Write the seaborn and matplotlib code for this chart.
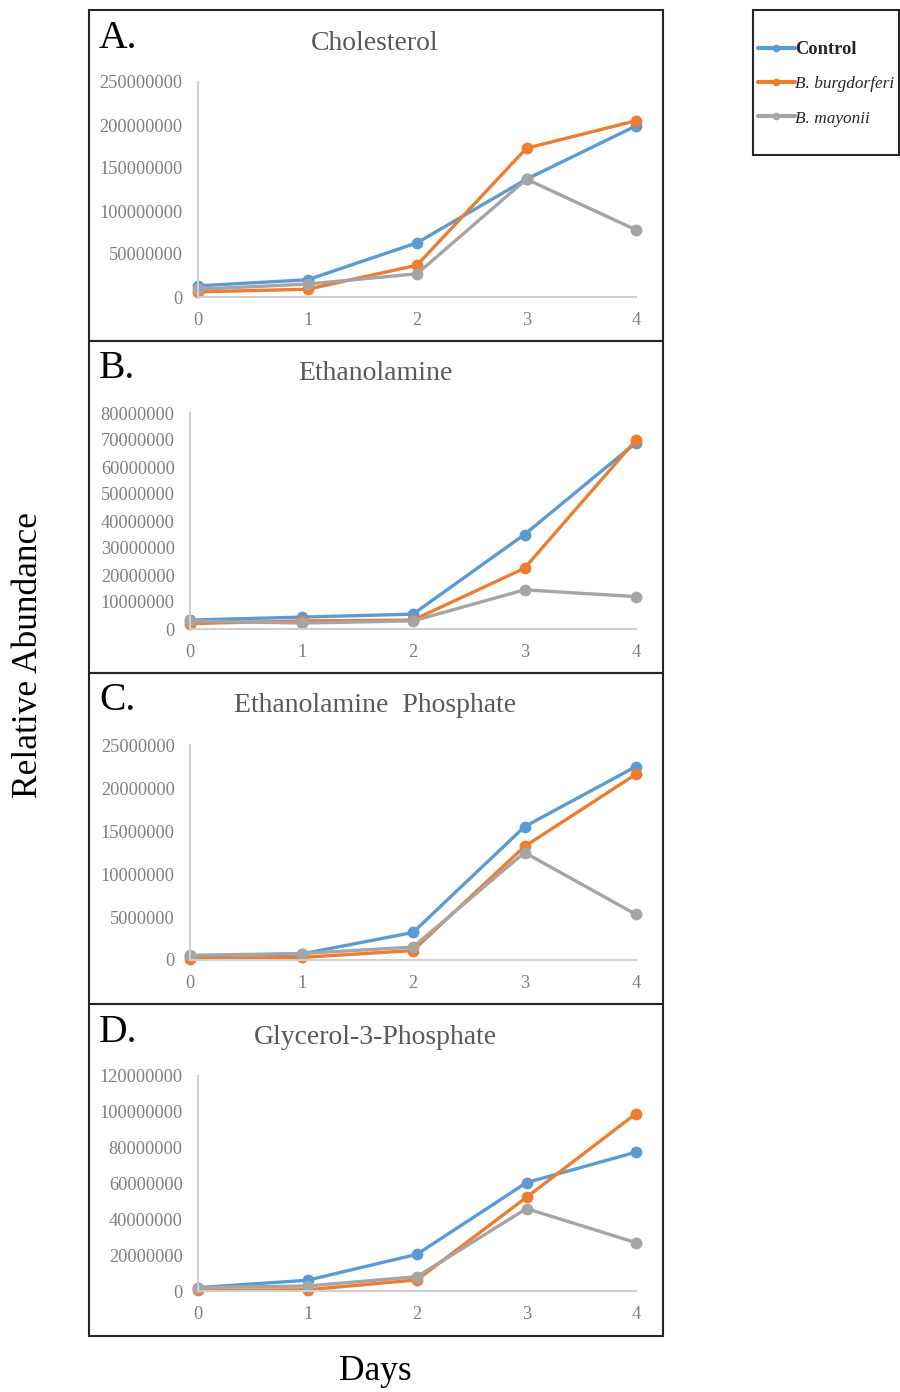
import numpy as np
import pandas as pd
import matplotlib
matplotlib.use("Agg")
import matplotlib.pyplot as plt
from matplotlib.patches import Rectangle
from matplotlib.lines import Line2D
import seaborn as sns

sns.set_style("white")
plt.rcParams['font.family'] = ['Liberation Serif', 'DejaVu Serif']

days = [0, 1, 2, 3, 4]
groups = ["Control", "B. burgdorferi", "B. mayonii"]
colors = ["#5B9BD5", "#ED7D31", "#A5A5A5"]

panel_letters = ["A.", "B.", "C.", "D."]
panel_titles = ["Cholesterol", "Ethanolamine", "Ethanolamine  Phosphate", "Glycerol-3-Phosphate"]

# values per panel: control, burgdorferi, mayonii
chol_control = [13e6, 20e6, 63e6, 137e6, 199e6]
chol_burg = [6e6, 9e6, 37e6, 173e6, 205e6]
chol_may = [9e6, 15e6, 27e6, 137e6, 78e6]

etha_control = [3.3e6, 4.4e6, 5.5e6, 35e6, 69e6]
etha_burg = [2.0e6, 3.0e6, 3.3e6, 22.5e6, 70e6]
etha_may = [3.0e6, 2.2e6, 3.0e6, 14.5e6, 12e6]

ep_control = [0.47e6, 0.7e6, 3.2e6, 15.5e6, 22.5e6]
ep_burg = [0.15e6, 0.3e6, 1.1e6, 13.2e6, 21.6e6]
ep_may = [0.55e6, 0.75e6, 1.5e6, 12.5e6, 5.3e6]

g3p_control = [1.9e6, 6e6, 20.5e6, 60.5e6, 77.5e6]
g3p_burg = [0.3e6, 0.7e6, 6.2e6, 52.3e6, 99e6]
g3p_may = [1.9e6, 2.8e6, 8e6, 46e6, 27e6]

yticks_A = [0, 50000000, 100000000, 150000000, 200000000, 250000000]
yticks_B = [0, 10000000, 20000000, 30000000, 40000000, 50000000, 60000000, 70000000, 80000000]
yticks_C = [0, 5000000, 10000000, 15000000, 20000000, 25000000]
yticks_D = [0, 20000000, 40000000, 60000000, 80000000, 100000000, 120000000]

panel_values = [
    (chol_control, chol_burg, chol_may),
    (etha_control, etha_burg, etha_may),
    (ep_control, ep_burg, ep_may),
    (g3p_control, g3p_burg, g3p_may),
]
panel_yticks = [yticks_A, yticks_B, yticks_C, yticks_D]

W, H = 900, 1392
fig = plt.figure(figsize=(W / 100, H / 100), dpi=100)

def fx(x):
    return x / W

def fy(y):
    return 1 - y / H

# panel boxes (pixel coords)
panel_tops = [10, 341, 673, 1004]
panel_bottoms = [341, 673, 1004, 1336]
box_left, box_right = 89, 663
# axes rectangles: left, right, top(ymax), bottom(y=0)
axes_px = [(198, 636, 82, 297), (190, 636, 413, 629), (190, 636, 745, 960), (198, 636, 1076, 1291)]

for i in range(4):
    t, b = panel_tops[i], panel_bottoms[i]
    fig.patches.append(Rectangle((fx(box_left), fy(b)), fx(box_right - box_left), (b - t) / H,
                                 transform=fig.transFigure, fill=False, edgecolor="#262626",
                                 linewidth=1.5, zorder=0))
    fig.text(fx(99), fy(t + 28), panel_letters[i], fontsize=28.5, color="black", ha="left", va="center")
    fig.text(fx(375), fy(t + 33), panel_titles[i], fontsize=20, color="#595959", ha="center", va="center")

    l, r, top, bot = axes_px[i]
    ax = fig.add_axes([fx(l), fy(bot), fx(r - l), (bot - top) / H])
    rows = []
    for g, vals in zip(groups, panel_values[i]):
        for d, v in zip(days, vals):
            rows.append({"day": d, "value": v, "group": g})
    df = pd.DataFrame(rows)
    sns.lineplot(data=df, x="day", y="value", hue="group", hue_order=groups,
                 palette=colors, marker="o", markersize=8.5, markeredgewidth=0,
                 linewidth=2.4, legend=False, ax=ax)
    for ln in ax.lines:
        ln.set_clip_on(False)
    yt = panel_yticks[i]
    ax.set_xlim(0, 4)
    ax.set_ylim(0, yt[-1])
    ax.set_xticks(days)
    ax.set_xticklabels([str(d) for d in days])
    ax.set_yticks(yt)
    ax.set_yticklabels([str(v) for v in yt])
    ax.set_xlabel("")
    ax.set_ylabel("")
    for s in ["top", "right"]:
        ax.spines[s].set_visible(False)
    for s in ["left", "bottom"]:
        ax.spines[s].set_color("#D0D0D0")
        ax.spines[s].set_linewidth(1.5)
    ax.tick_params(axis="y", length=0, pad=11, labelsize=13.2, labelcolor="#7F7F7F")
    ax.tick_params(axis="x", length=0, pad=11, labelsize=13.2, labelcolor="#7F7F7F")
    ax.set_facecolor("none")

# axis titles
fig.text(fx(29), fy(655), "Relative Abundance", rotation=90, fontsize=25.5, color="black",
         ha="center", va="center")
fig.text(fx(375), fy(1372), "Days", fontsize=25.5, color="black", ha="center", va="center")

# legend box
fig.patches.append(Rectangle((fx(753), fy(155)), fx(899 - 753), (155 - 10) / H,
                             transform=fig.transFigure, fill=False, edgecolor="#262626",
                             linewidth=1.5, zorder=0))
handles = [Line2D([0], [0], color=c, linewidth=3, marker="o", markersize=5.5, markeredgewidth=0)
           for c in colors]
leg = fig.legend(handles, groups, loc="upper left", bbox_to_anchor=(fx(758), fy(41)),
                 frameon=False, handlelength=2.0, handletextpad=0.0, labelspacing=0.95,
                 fontsize=13.3, borderaxespad=0, borderpad=0)
texts = leg.get_texts()
texts[0].set_fontweight("bold")
texts[1].set_fontstyle("italic")
texts[2].set_fontstyle("italic")
texts[1].set_fontsize(12.4)
texts[2].set_fontsize(12.4)

fig.savefig("out.png", dpi=100)
